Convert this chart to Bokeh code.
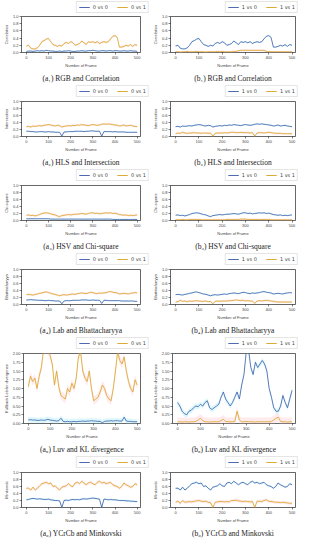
from bokeh.plotting import figure
from bokeh.layouts import column, row
from bokeh.models import Legend, LegendItem, FixedTicker, NumeralTickFormatter, Range1d
from bokeh.embed import file_html
from bokeh.resources import INLINE

frames = list(range(0, 501, 10))

# (a1)/(b1) RGB and Correlation
rgb_corr_00 = [0.03,0.04,0.04,0.03,0.04,0.05,0.04,0.05,0.04,0.06,0.05,0.04,0.04,0.03,0.03,0.04,0.03,0.04,0.04,0.05,0.04,0.03,0.03,0.04,0.04,0.05,0.04,0.04,0.05,0.05,0.06,0.05,0.04,0.04,0.05,0.05,0.04,0.05,0.05,0.04,0.05,0.05,0.04,0.04,0.05,0.04,0.04,0.05,0.04,0.04,0.03]
rgb_corr_01 = [0.18,0.2,0.12,0.1,0.1,0.13,0.2,0.3,0.33,0.37,0.39,0.3,0.22,0.2,0.17,0.2,0.18,0.25,0.28,0.25,0.3,0.27,0.2,0.22,0.25,0.32,0.27,0.22,0.3,0.28,0.3,0.27,0.3,0.25,0.28,0.3,0.28,0.3,0.38,0.45,0.47,0.42,0.15,0.15,0.17,0.2,0.18,0.22,0.17,0.22,0.2]
rgb_corr_10 = [0.18,0.2,0.12,0.1,0.1,0.13,0.2,0.3,0.33,0.37,0.39,0.3,0.22,0.2,0.17,0.2,0.18,0.25,0.28,0.25,0.3,0.27,0.2,0.22,0.25,0.32,0.27,0.22,0.3,0.28,0.3,0.27,0.3,0.25,0.28,0.3,0.28,0.3,0.38,0.45,0.47,0.42,0.15,0.15,0.17,0.2,0.18,0.22,0.17,0.22,0.2]
rgb_corr_11 = [0.02,0.02,0.01,0.02,0.02,0.03,0.02,0.02,0.02,0.03,0.02,0.02,0.02,0.01,0.02,0.02,0.02,0.02,0.03,0.02,0.03,0.02,0.02,0.02,0.02,0.03,0.03,0.05,0.06,0.06,0.06,0.06,0.06,0.06,0.06,0.06,0.06,0.06,0.06,0.03,0.02,0.02,0.02,0.02,0.02,0.02,0.02,0.02,0.02,0.02,0.02]

# (a2)/(b2) HLS and Intersection
hls_int_00 = [0.15,0.15,0.14,0.14,0.13,0.13,0.14,0.14,0.13,0.13,0.14,0.13,0.13,0.12,0.12,0.12,0.01,0.13,0.13,0.14,0.14,0.14,0.15,0.15,0.15,0.15,0.14,0.15,0.15,0.16,0.16,0.15,0.15,0.15,0.01,0.14,0.14,0.14,0.14,0.13,0.14,0.13,0.13,0.13,0.13,0.12,0.12,0.12,0.12,0.12,0.12]
hls_int_01 = [0.28,0.29,0.27,0.3,0.29,0.3,0.31,0.3,0.32,0.33,0.34,0.33,0.31,0.3,0.32,0.31,0.27,0.29,0.3,0.31,0.3,0.32,0.31,0.33,0.32,0.34,0.33,0.32,0.31,0.33,0.34,0.33,0.32,0.33,0.35,0.36,0.35,0.36,0.35,0.34,0.33,0.32,0.3,0.31,0.33,0.3,0.31,0.32,0.3,0.29,0.28]
hls_int_10 = [0.28,0.29,0.27,0.3,0.29,0.3,0.31,0.3,0.32,0.33,0.34,0.33,0.31,0.3,0.32,0.31,0.27,0.29,0.3,0.31,0.3,0.32,0.31,0.33,0.32,0.34,0.33,0.32,0.31,0.33,0.34,0.33,0.32,0.33,0.35,0.36,0.35,0.36,0.35,0.34,0.33,0.32,0.3,0.31,0.33,0.3,0.31,0.32,0.3,0.29,0.28]
hls_int_11 = [0.08,0.1,0.09,0.12,0.1,0.09,0.1,0.1,0.11,0.1,0.1,0.09,0.1,0.1,0.09,0.1,0.01,0.09,0.1,0.1,0.1,0.11,0.1,0.11,0.12,0.12,0.11,0.11,0.12,0.11,0.11,0.11,0.1,0.11,0.01,0.1,0.11,0.11,0.1,0.11,0.12,0.11,0.1,0.09,0.09,0.09,0.08,0.08,0.08,0.08,0.08]

# (a3)/(b3) HSV and Chi-square
hsv_chi_00 = [0.05,0.05,0.05,0.05,0.05,0.05,0.05,0.05,0.05,0.05,0.05,0.04,0.04,0.04,0.04,0.04,0.04,0.04,0.04,0.04,0.04,0.04,0.04,0.04,0.04,0.04,0.04,0.04,0.04,0.04,0.04,0.04,0.04,0.04,0.04,0.04,0.04,0.04,0.04,0.03,0.03,0.03,0.03,0.03,0.03,0.03,0.03,0.03,0.03,0.03,0.03]
hsv_chi_01 = [0.15,0.16,0.14,0.15,0.13,0.15,0.17,0.2,0.21,0.22,0.21,0.19,0.17,0.16,0.13,0.11,0.14,0.15,0.16,0.17,0.16,0.17,0.18,0.18,0.19,0.2,0.19,0.18,0.2,0.22,0.22,0.2,0.21,0.19,0.2,0.21,0.22,0.21,0.22,0.2,0.21,0.19,0.17,0.16,0.15,0.16,0.14,0.15,0.14,0.15,0.16]
hsv_chi_10 = [0.15,0.16,0.14,0.15,0.13,0.15,0.17,0.2,0.21,0.22,0.21,0.19,0.17,0.16,0.13,0.11,0.14,0.15,0.16,0.17,0.16,0.17,0.18,0.18,0.19,0.2,0.19,0.18,0.2,0.22,0.22,0.2,0.21,0.19,0.2,0.21,0.22,0.21,0.22,0.2,0.21,0.19,0.17,0.16,0.15,0.16,0.14,0.15,0.14,0.15,0.16]
hsv_chi_11 = [0.02,0.02,0.02,0.03,0.02,0.02,0.03,0.03,0.03,0.03,0.03,0.02,0.02,0.02,0.02,0.02,0.02,0.02,0.02,0.02,0.02,0.02,0.03,0.03,0.03,0.03,0.03,0.03,0.04,0.04,0.04,0.03,0.03,0.03,0.03,0.03,0.03,0.03,0.03,0.03,0.03,0.02,0.02,0.02,0.02,0.02,0.02,0.02,0.02,0.02,0.02]

# (a4)/(b4) Lab and Bhattacharyya
lab_bha_00 = [0.13,0.13,0.14,0.13,0.13,0.12,0.12,0.12,0.11,0.11,0.12,0.11,0.11,0.1,0.1,0.1,0.02,0.1,0.11,0.11,0.11,0.12,0.12,0.12,0.12,0.13,0.13,0.13,0.12,0.12,0.13,0.12,0.12,0.12,0.03,0.12,0.12,0.11,0.11,0.11,0.11,0.11,0.11,0.1,0.1,0.1,0.1,0.1,0.1,0.09,0.09]
lab_bha_01 = [0.28,0.29,0.28,0.27,0.29,0.3,0.32,0.33,0.35,0.36,0.34,0.32,0.3,0.29,0.27,0.25,0.27,0.28,0.27,0.28,0.29,0.3,0.29,0.31,0.32,0.33,0.32,0.31,0.33,0.35,0.34,0.32,0.31,0.33,0.32,0.33,0.34,0.36,0.37,0.35,0.34,0.33,0.3,0.31,0.32,0.31,0.3,0.32,0.33,0.34,0.33]
lab_bha_10 = [0.28,0.29,0.28,0.27,0.29,0.3,0.32,0.33,0.35,0.36,0.34,0.32,0.3,0.29,0.27,0.25,0.27,0.28,0.27,0.28,0.29,0.3,0.29,0.31,0.32,0.33,0.32,0.31,0.33,0.35,0.34,0.32,0.31,0.33,0.32,0.33,0.34,0.36,0.37,0.35,0.34,0.33,0.3,0.31,0.32,0.31,0.3,0.32,0.33,0.34,0.33]
lab_bha_11 = [0.07,0.08,0.12,0.09,0.1,0.08,0.1,0.09,0.1,0.11,0.1,0.09,0.09,0.1,0.08,0.09,0.02,0.09,0.1,0.09,0.1,0.1,0.1,0.11,0.11,0.12,0.13,0.12,0.11,0.12,0.1,0.11,0.1,0.1,0.03,0.1,0.11,0.1,0.11,0.12,0.11,0.1,0.09,0.08,0.07,0.07,0.07,0.07,0.07,0.07,0.07]

# (a5)/(b5) Luv and KL divergence
luv_kl_00 = [0.1,0.11,0.1,0.1,0.09,0.09,0.1,0.09,0.1,0.12,0.1,0.09,0.08,0.07,0.08,0.15,0.06,0.05,0.06,0.05,0.05,0.06,0.05,0.06,0.06,0.07,0.06,0.07,0.07,0.08,0.07,0.07,0.06,0.06,0.02,0.06,0.07,0.07,0.08,0.07,0.08,0.08,0.07,0.07,0.18,0.07,0.06,0.06,0.05,0.05,0.05]
luv_kl_01 = [1.05,1.35,1.2,1.3,1.0,1.35,1.6,2.1,2.1,2.1,1.95,1.7,1.1,1.5,1.05,0.8,0.75,0.7,1.0,0.9,1.15,1.0,1.3,1.9,2.05,1.5,1.3,1.2,1.5,1.0,0.65,0.7,0.75,0.9,1.1,1.0,0.8,0.7,0.65,1.0,1.5,2.05,1.8,1.7,1.9,1.5,1.2,1.0,0.9,1.25,1.1]
luv_kl_10 = [0.6,0.5,0.35,0.28,0.25,0.35,0.38,0.45,0.5,0.48,0.55,0.5,0.6,0.65,0.45,0.4,0.45,0.5,0.55,0.75,0.9,0.7,0.6,0.5,0.6,0.75,0.9,0.7,1.1,1.4,2.05,2.1,1.6,1.4,1.75,1.6,1.7,1.8,1.7,1.5,1.0,0.75,0.45,0.35,0.35,0.5,0.8,0.6,0.45,0.7,0.95]
luv_kl_11 = [0.05,0.05,0.04,0.05,0.05,0.04,0.05,0.05,0.06,0.1,0.15,0.08,0.05,0.05,0.04,0.05,0.05,0.05,0.05,0.08,0.12,0.06,0.05,0.05,0.05,0.06,0.35,0.1,0.05,0.05,0.06,0.05,0.05,0.05,0.04,0.05,0.05,0.05,0.05,0.05,0.05,0.06,0.1,0.15,0.18,0.06,0.05,0.05,0.04,0.05,0.05]

# (a6)/(b6) YCrCb and Minkovski
ycc_min_00 = [0.22,0.23,0.25,0.26,0.25,0.24,0.25,0.24,0.23,0.23,0.24,0.22,0.21,0.2,0.2,0.19,0.0,0.2,0.21,0.2,0.22,0.23,0.22,0.23,0.22,0.24,0.25,0.24,0.25,0.26,0.27,0.26,0.25,0.24,0.0,0.24,0.23,0.22,0.23,0.22,0.22,0.21,0.2,0.2,0.2,0.19,0.19,0.18,0.18,0.17,0.17]
ycc_min_01 = [0.55,0.55,0.5,0.58,0.5,0.55,0.62,0.68,0.7,0.72,0.68,0.7,0.6,0.62,0.55,0.5,0.58,0.6,0.62,0.68,0.62,0.6,0.7,0.72,0.68,0.75,0.7,0.65,0.7,0.72,0.68,0.65,0.72,0.75,0.7,0.72,0.68,0.7,0.72,0.65,0.62,0.6,0.55,0.6,0.7,0.65,0.62,0.58,0.6,0.68,0.65]
ycc_min_10 = [0.55,0.55,0.5,0.58,0.5,0.55,0.62,0.68,0.7,0.72,0.68,0.7,0.6,0.62,0.55,0.5,0.58,0.6,0.62,0.68,0.62,0.6,0.7,0.72,0.68,0.75,0.7,0.65,0.7,0.72,0.68,0.65,0.72,0.75,0.7,0.72,0.68,0.7,0.72,0.65,0.62,0.6,0.55,0.6,0.7,0.65,0.62,0.58,0.6,0.68,0.65]
ycc_min_11 = [0.15,0.18,0.12,0.2,0.15,0.16,0.17,0.16,0.18,0.19,0.2,0.18,0.17,0.18,0.15,0.14,0.0,0.15,0.16,0.17,0.17,0.16,0.17,0.16,0.2,0.2,0.21,0.19,0.18,0.17,0.18,0.17,0.16,0.17,0.0,0.18,0.18,0.17,0.2,0.22,0.18,0.17,0.16,0.15,0.15,0.14,0.15,0.14,0.13,0.12,0.12]

captions_a = ["(a\u2081) RGB and Correlation", "(a\u2082) HLS and Intersection", "(a\u2083) HSV and Chi-square",
              "(a\u2084) Lab and Bhattacharyya", "(a\u2085) Luv and KL divergence", "(a\u2086) YCrCb and Minkovski"]
captions_b = ["(b\u2081) RGB and Correlation", "(b\u2082) HLS and Intersection", "(b\u2083) HSV and Chi-square",
              "(b\u2084) Lab and Bhattacharyya", "(b\u2085) Luv and KL divergence", "(b\u2086) YCrCb and Minkovski"]
ylabels = ["Correlation", "Intersection", "Chi-square", "Bhattacharyya", "Kullback Leibler divergence", "Minkovski"]
labels_a = ["0 vs 0", "0 vs 1"]
labels_b = ["1 vs 0", "1 vs 1"]
series_a = [(rgb_corr_00, rgb_corr_01), (hls_int_00, hls_int_01), (hsv_chi_00, hsv_chi_01),
            (lab_bha_00, lab_bha_01), (luv_kl_00, luv_kl_01), (ycc_min_00, ycc_min_01)]
series_b = [(rgb_corr_10, rgb_corr_11), (hls_int_10, hls_int_11), (hsv_chi_10, hsv_chi_11),
            (lab_bha_10, lab_bha_11), (luv_kl_10, luv_kl_11), (ycc_min_10, ycc_min_11)]
y_max = [1.0, 1.0, 1.0, 1.0, 2.0, 1.0]
band = [0.02, 0.02, 0.02, 0.02, 0.08, 0.03]

BLUE = "#3a5aa8"
ORANGE = "#d9a31e"
BAND_BLUE = "#9eeaf5"
BAND_ORANGE = "#ffc2cc"

LEG_H = 13
main_h = [71, 71, 71, 71, 106, 71]
top_b = [3, 4, 4, 4, 4, 4]
bot_b = [26, 26, 26, 25, 23, 25]


def make_legend(i, col):
    labs = labels_a if col == 0 else labels_b
    blue, orange = (series_a if col == 0 else series_b)[i]
    # legend strip: the series lie outside its (empty) view, only the legend shows
    q = figure(width=149, height=LEG_H, output_backend="svg", toolbar_location=None,
               x_range=Range1d(0, 1), y_range=Range1d(50, 51),
               min_border_left=0, min_border_right=0, min_border_top=0, min_border_bottom=0)
    q.axis.visible = False
    q.grid.visible = False
    q.outline_line_color = None
    rb = q.line(frames, blue, line_color=BLUE, line_width=0.9)
    ro = q.line(frames, orange, line_color=ORANGE, line_width=0.9)
    leg = Legend(items=[LegendItem(label=labs[0], renderers=[rb]), LegendItem(label=labs[1], renderers=[ro])],
                 orientation="horizontal", location="bottom_right",
                 label_text_font_size="5px", label_text_font="DejaVu Sans", label_standoff=3,
                 glyph_width=11, glyph_height=6, label_height=6, label_width=10,
                 spacing=9, padding=2, margin=0,
                 border_line_color="#cccccc", border_line_width=0.6)
    q.add_layout(leg)
    return q


def make(i, col):
    caps = captions_a if col == 0 else captions_b
    blue, orange = (series_a if col == 0 else series_b)[i]
    ym = y_max[i]
    p = figure(width=149, height=main_h[i],
               output_backend="svg", toolbar_location=None,
               x_range=Range1d(-22, 515), y_range=Range1d(0, ym),
               min_border_left=12 if col == 0 else 17, min_border_right=9 if col == 0 else 3,
               min_border_top=top_b[i], min_border_bottom=bot_b[i],
               title=caps[i], title_location="below")
    lo_b = [v - band[i] for v in blue]
    hi_b = [v + band[i] for v in blue]
    lo_o = [v - band[i] * 1.5 for v in orange]
    hi_o = [v + band[i] * 1.5 for v in orange]
    p.varea(x=frames, y1=lo_b, y2=hi_b, fill_color=BAND_BLUE, fill_alpha=0.35)
    p.varea(x=frames, y1=lo_o, y2=hi_o, fill_color=BAND_ORANGE, fill_alpha=0.35)
    p.line(frames, blue, line_color=BLUE, line_width=0.8)
    p.line(frames, orange, line_color=ORANGE, line_width=0.8)
    p.title.align = "center"
    p.title.text_font = "Liberation Serif"
    p.title.text_font_size = "7.5px"
    p.title.text_font_style = "normal"
    p.title.text_color = "#222222"
    p.title.standoff = 3
    p.title.offset = 0
    p.xgrid.visible = False
    p.ygrid.visible = False
    p.outline_line_color = "black"
    p.outline_line_width = 0.6
    p.xaxis.ticker = FixedTicker(ticks=[0, 100, 200, 300, 400, 500])
    if ym == 2.0:
        p.yaxis.ticker = FixedTicker(ticks=[0, 0.25, 0.5, 0.75, 1.0, 1.25, 1.5, 1.75, 2.0])
        p.yaxis.formatter = NumeralTickFormatter(format="0.00")
    else:
        p.yaxis.ticker = FixedTicker(ticks=[0, 0.2, 0.4, 0.6, 0.8, 1.0])
        p.yaxis.formatter = NumeralTickFormatter(format="0.0")
    p.xaxis.axis_label = "Number of Frame"
    p.yaxis.axis_label = ylabels[i]
    for ax in (p.xaxis, p.yaxis):
        ax.major_label_text_font_size = "4px"
        ax.axis_label_text_font_size = "4px"
        ax.axis_label_text_font_style = "normal"
        ax.major_label_standoff = 1
        ax.axis_label_standoff = 1
        ax.major_tick_out = 2
        ax.major_tick_in = 0
        ax.major_tick_line_width = 0.5
        ax.minor_tick_line_color = None
        ax.axis_line_color = None
    return p


blocks = []
for i in range(6):
    blocks.append(row(make_legend(i, 0), make_legend(i, 1)))
    blocks.append(row(make(i, 0), make(i, 1)))
layout = column(*blocks)
open("out.html", "w").write(file_html(layout, INLINE))
